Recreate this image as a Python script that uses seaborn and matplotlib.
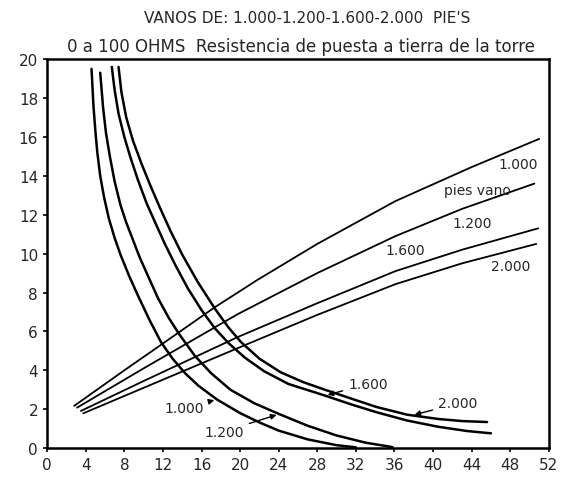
import matplotlib
matplotlib.use("Agg")
import matplotlib.pyplot as plt
import seaborn as sns

# rising lines (pies vano)
up_1000_x = [2.8, 8.0, 12.0, 17.4, 21.8, 28.0, 36.1, 44.0, 51.0]
up_1000_y = [2.17, 4.0, 5.38, 7.25, 8.65, 10.5, 12.7, 14.45, 15.9]
up_1200_x = [3.1, 10.0, 19.8, 28.0, 36.1, 43.0, 50.5]
up_1200_y = [2.08, 4.1, 6.9, 9.0, 10.9, 12.3, 13.6]
up_1600_x = [3.5, 10.0, 19.8, 28.0, 36.1, 43.0, 50.9]
up_1600_y = [1.91, 3.45, 5.72, 7.45, 9.1, 10.2, 11.3]
up_2000_x = [3.75, 10.0, 19.8, 28.0, 36.1, 43.0, 50.7]
up_2000_y = [1.79, 3.1, 5.15, 6.85, 8.43, 9.5, 10.5]

# falling curves
dn_1000_x = [4.6, 4.8, 5.0, 5.2, 5.5, 5.9, 6.4, 7.0, 7.6, 8.5, 9.5, 10.6, 11.8, 13.0,
             14.3, 15.7, 17.6, 20.0, 22.0, 24.0, 27.0, 30.0, 32.0]
dn_1000_y = [19.5, 17.6, 16.3, 15.2, 14.0, 12.9, 11.8, 10.8, 9.95, 8.85, 7.75, 6.6, 5.45, 4.6,
             3.85, 3.2, 2.5, 1.8, 1.32, 0.9, 0.45, 0.15, 0.04]
dn_1200_x = [5.5, 5.8, 6.1, 6.5, 7.0, 7.6, 8.2, 8.9, 9.6, 10.5, 11.5, 12.6, 13.7, 15.3,
             17.0, 19.0, 21.5, 24.05, 27.0, 30.0, 33.0, 35.8]
dn_1200_y = [19.3, 17.5, 16.2, 15.0, 13.7, 12.5, 11.6, 10.7, 9.8, 8.8, 7.7, 6.7, 5.85, 4.75,
             3.85, 3.0, 2.3, 1.75, 1.15, 0.65, 0.28, 0.05]
dn_1600_x = [6.7, 7.0, 7.4, 8.0, 8.6, 9.4, 10.3, 11.2, 12.2, 13.3, 14.6, 16.0, 17.4, 18.8,
             20.5, 22.5, 25.0, 28.8, 31.5, 34.1, 37.3, 40.5, 43.5, 46.0]
dn_1600_y = [19.6, 18.4, 17.2, 16.0, 15.0, 13.8, 12.6, 11.6, 10.5, 9.4, 8.2, 7.1, 6.15, 5.4,
             4.65, 3.95, 3.3, 2.7, 2.25, 1.85, 1.42, 1.1, 0.88, 0.76]
dn_2000_x = [7.4, 7.7, 8.2, 8.9, 9.8, 10.7, 11.7, 12.8, 14.0, 15.6, 17.4, 18.8, 20.1, 22.0,
             24.2, 26.5, 28.8, 31.5, 34.1, 37.3, 40.5, 43.0, 45.6]
dn_2000_y = [19.6, 18.3, 17.0, 15.8, 14.6, 13.5, 12.35, 11.15, 9.95, 8.55, 7.16, 6.2, 5.45, 4.6,
             3.9, 3.4, 3.0, 2.55, 2.12, 1.72, 1.5, 1.39, 1.34]

x_ticks = list(range(0, 53, 4))
y_ticks = list(range(0, 21, 2))

sns.set_style("ticks")
plt.rcParams["font.family"] = ["DejaVu Sans"]

fig = plt.figure(figsize=(5.82, 4.85), dpi=100)
ax = fig.add_axes([0.081, 0.074, 0.862, 0.802])

for xs, ys in [(up_1000_x, up_1000_y), (up_1200_x, up_1200_y),
               (up_1600_x, up_1600_y), (up_2000_x, up_2000_y)]:
    sns.lineplot(x=xs, y=ys, ax=ax, color="black", lw=1.3, estimator=None, sort=False)

for xs, ys in [(dn_1000_x, dn_1000_y), (dn_1200_x, dn_1200_y),
               (dn_1600_x, dn_1600_y), (dn_2000_x, dn_2000_y)]:
    sns.lineplot(x=xs, y=ys, ax=ax, color="black", lw=1.8, estimator=None, sort=False)

ax.set_xlim(0, 52)
ax.set_ylim(0, 20)
ax.set_xticks(x_ticks)
ax.set_yticks(y_ticks)
ax.tick_params(labelsize=11, length=3, width=1.2, color="black")
for s in ax.spines.values():
    s.set_linewidth(1.8)
    s.set_color("black")

# labels on the rising lines
ax.text(48.8, 14.6, "1.000", fontsize=10, ha="center", va="center")
ax.text(44.6, 13.25, "pies vano", fontsize=10, ha="center", va="center")
ax.text(44.1, 11.6, "1.200", fontsize=10, ha="center", va="center")
ax.text(37.1, 10.2, "1.600", fontsize=10, ha="center", va="center")
ax.text(48.0, 9.35, "2.000", fontsize=10, ha="center", va="center")

# labels with arrows on the falling curves
arrow = dict(arrowstyle="-|>", color="black", lw=1.0, mutation_scale=8)
ax.annotate("1.000", xy=(17.6, 2.5), xytext=(14.2, 2.05), fontsize=10,
            ha="center", va="center", arrowprops=arrow)
ax.annotate("1.200", xy=(24.05, 1.75), xytext=(18.3, 0.85), fontsize=10,
            ha="center", va="center", arrowprops=arrow)
ax.annotate("1.600", xy=(28.8, 2.7), xytext=(33.3, 3.3), fontsize=10,
            ha="center", va="center", arrowprops=arrow)
ax.annotate("2.000", xy=(37.8, 1.68), xytext=(42.6, 2.3), fontsize=10,
            ha="center", va="center", arrowprops=arrow)

fig.text(0.528, 0.962, "VANOS DE: 1.000-1.200-1.600-2.000  PIE'S",
         fontsize=11, ha="center", va="center")
fig.text(0.517, 0.903, "0 a 100 OHMS  Resistencia de puesta a tierra de la torre",
         fontsize=12, ha="center", va="center")

fig.savefig("out.png", dpi=100)
